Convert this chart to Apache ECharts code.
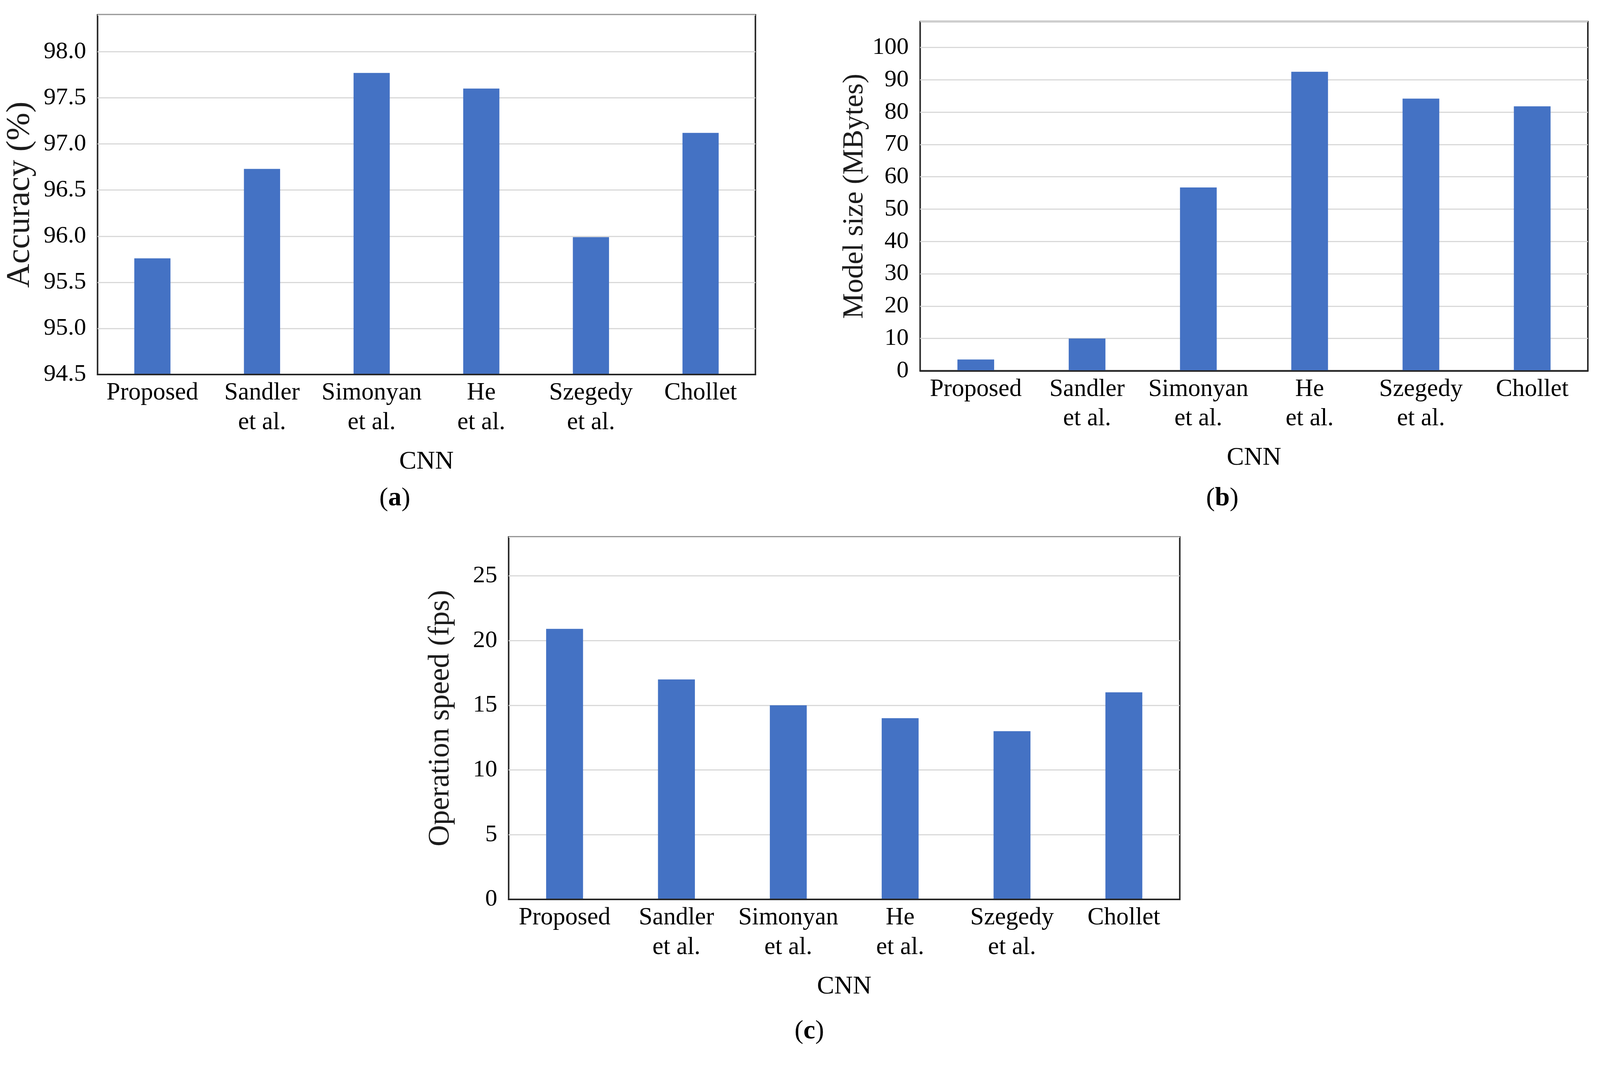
<!DOCTYPE html>
<html>
<head>
<meta charset="utf-8">
<script src="https://cdn.jsdelivr.net/npm/echarts@6/dist/echarts.min.js"></script>
<style>
html,body{margin:0;padding:0;background:#fff;overflow:hidden;}
#main{width:100vw;height:100vh;}
</style>
</head>
<body>
<div id="main"></div>
<script>
// ---- data ----
const categories = ['Proposed', 'Sandler\net al.', 'Simonyan\net al.', 'He\net al.', 'Szegedy\net al.', 'Chollet'];
const accuracy = [95.76, 96.73, 97.77, 97.60, 95.99, 97.12];
const modelSize = [3.5, 10.0, 56.7, 92.5, 84.2, 81.8];
const speed = [20.9, 17.0, 15.0, 14.0, 13.0, 16.0];
const xAxisName = 'CNN';
const yNames = ['Accuracy (%)', 'Model size (MBytes)', 'Operation speed (fps)'];
const panelLetters = ['a', 'b', 'c'];

// ---- layout (reference pixel space 4215 x 2768, scaled uniformly to viewport width) ----
const el = document.getElementById('main');
const W = el.clientWidth || window.innerWidth || 4215;
const s = W / 4215;
const sx = s, sy = s, sf = s;

const FONT = '"Liberation Serif", "Times New Roman", serif';
const BAR = '#4472C4';

const gridsRef = [
  {left: 257, top: 39, width: 1733, height: 948},
  {left: 2424, top: 57, width: 1759, height: 920},
  {left: 1340, top: 1415, width: 1768, height: 955}
];
const grids = gridsRef.map(g => ({left: g.left * sx, top: g.top * sy, width: g.width * sx, height: g.height * sy}));
const yCfg = [
  {min: 94.5, max: 98.4, interval: 0.5, dec: 1, gap: 160, fs: 88},
  {min: 0, max: 108, interval: 10, dec: 0, gap: 134, fs: 76},
  {min: 0, max: 28, interval: 5, dec: 0, gap: 140, fs: 78}
];
const seriesData = [accuracy, modelSize, speed];
const panelPos = [[1040, 1314], [3220, 1314], [2132, 2718]];

const chart = echarts.init(el, null, {renderer: 'canvas'});

const option = {
  backgroundColor: '#ffffff',
  animation: false,
  grid: grids.map(g => Object.assign({show: true, borderColor: '#262626', borderWidth: 4 * sf, backgroundColor: 'transparent', containLabel: false}, g)),
  xAxis: grids.map((g, i) => ({
    type: 'category',
    gridIndex: i,
    data: categories,
    name: xAxisName,
    nameLocation: 'middle',
    nameGap: 196 * sy,
    nameTextStyle: {fontFamily: FONT, fontSize: 68 * sf, color: '#000'},
    axisLine: {show: true, lineStyle: {color: '#262626', width: 4 * sf}},
    axisTick: {show: false},
    axisLabel: {interval: 0, margin: 10 * sy, fontFamily: FONT, fontSize: 65 * sf, lineHeight: 78 * sy, color: '#000'},
    z: 10
  })),
  yAxis: yCfg.map((c, i) => ({
    type: 'value',
    gridIndex: i,
    min: c.min,
    max: c.max,
    interval: c.interval,
    name: yNames[i],
    nameLocation: 'middle',
    nameRotate: 90,
    nameGap: c.gap * sx,
    nameTextStyle: {fontFamily: FONT, fontSize: c.fs * sf, color: '#1c1c1c'},
    axisLine: {show: false},
    axisTick: {show: false},
    splitLine: {show: true, lineStyle: {color: '#D9D9D9', width: 3 * sf}},
    axisLabel: {
      margin: 30 * sx, fontFamily: FONT, fontSize: 64 * sf, color: '#000',
      showMaxLabel: false,
      formatter: v => v.toFixed(c.dec)
    }
  })),
  series: seriesData.map((d, i) => ({
    type: 'bar',
    xAxisIndex: i,
    yAxisIndex: i,
    data: d,
    barWidth: '33%',
    itemStyle: {color: BAR},
    z: 2
  })),
  graphic: panelLetters.map((l, i) => ({
    type: 'text',
    x: panelPos[i][0] * sx,
    y: panelPos[i][1] * sy,
    style: {
      text: '{n|(}{b|' + l + '}{n|)}',
      align: 'center',
      verticalAlign: 'middle',
      fill: '#000',
      rich: {
        n: {fontFamily: FONT, fontSize: 70 * sf, fill: '#000', color: '#000'},
        b: {fontFamily: FONT, fontSize: 70 * sf, fontWeight: 'bold', fill: '#000', color: '#000'}
      }
    }
  }))
};
chart.setOption(option);
window.addEventListener('resize', () => chart.resize());
</script>
</body>
</html>
